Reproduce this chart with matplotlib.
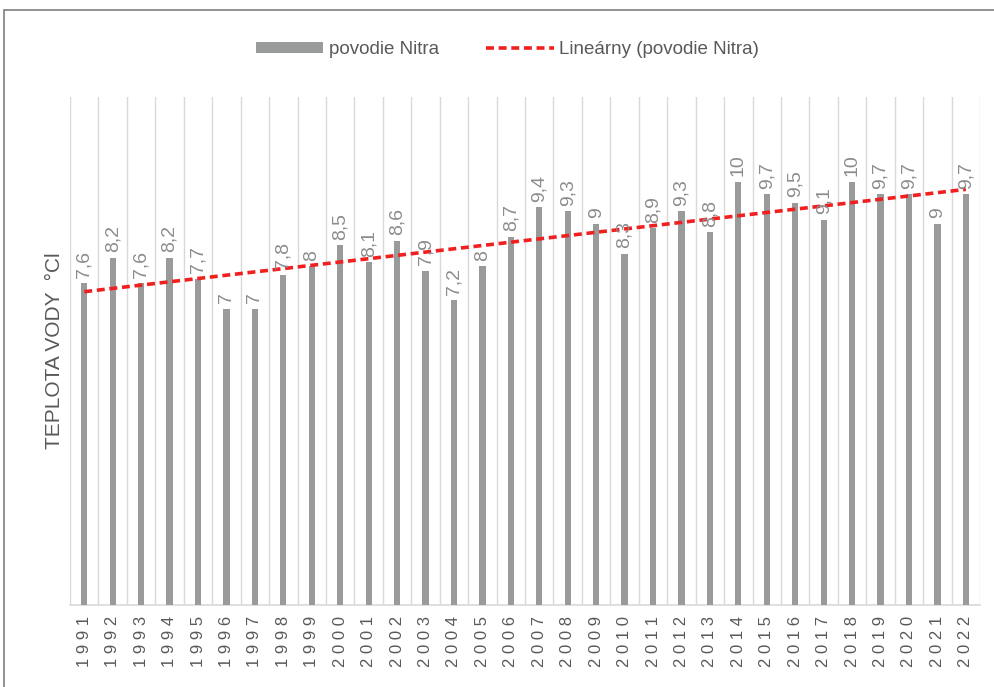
import matplotlib.pyplot as plt
import numpy as np
import matplotlib
from matplotlib.patches import Rectangle

matplotlib.rcParams['font.family'] = ['Liberation Sans', 'DejaVu Sans']

# Data: average water temperature, Nitra basin
years = [str(y) for y in range(1991, 2023)]
temps = [7.6, 8.2, 7.6, 8.2, 7.7, 7.0, 7.0, 7.8, 8.0, 8.5, 8.1, 8.6, 7.9, 7.2, 8.0, 8.7,
         9.4, 9.3, 9.0, 8.3, 8.9, 9.3, 8.8, 10.0, 9.7, 9.5, 9.1, 10.0, 9.7, 9.7, 9.0, 9.7]

bar_color = '#999b9b'
grid_color = '#d9d9d9'
text_color = '#595959'

fig = plt.figure(figsize=(9.95, 6.87), dpi=100)
ax = fig.add_axes([0.0704, 0.1194, 0.9146, 0.7394])

x = np.arange(len(years))
bars = ax.bar(x, temps, width=0.22, color=bar_color, zorder=3, label='povodie Nitra')

# Linear trendline (as in Excel)
k, q = np.polyfit(x, temps, 1)
trend, = ax.plot(x, k * x + q, color='#f02020', linestyle=(0, (2.2, 1.3)), linewidth=2.6,
                 zorder=4, label='Lineárny (povodie Nitra)')

# data labels
for xi, v in zip(x, temps):
    lab = ('%g' % v).replace('.', ',')
    ax.annotate(lab, (xi, v), xytext=(0, 4), textcoords='offset points',
                rotation=90, ha='center', va='bottom', fontsize=14,
                color='#8c8c8c', zorder=5)

ax.set_xlim(-0.5, len(years) - 0.5)
ax.set_ylim(0, 12)
ax.set_yticks([])
ax.set_xticks(x)
ax.set_xticklabels([' '.join(y) for y in years], rotation=90, fontsize=12, color=text_color)
ax.tick_params(axis='x', length=0, pad=8)

for b in np.arange(-0.5, len(years), 1.0):
    ax.axvline(b, color=grid_color, linewidth=1, zorder=1)

for s in ['top', 'right', 'left']:
    ax.spines[s].set_visible(False)
ax.spines['bottom'].set_color(grid_color)
ax.spines['bottom'].set_linewidth(1.2)

ax.set_ylabel('TEPLOTA VODY  °Cl', fontsize=15, color=text_color, labelpad=4)

fig.legend([bars, trend], ['povodie Nitra', 'Lineárny (povodie Nitra)'],
           loc='upper center', bbox_to_anchor=(0.51, 0.965), ncol=2, frameon=False,
           fontsize=13.5, labelcolor=text_color, handlelength=3.6, handleheight=0.5,
           columnspacing=2.5, handletextpad=0.3)

# outer chart border
fig.patches.append(Rectangle((0.004, -0.01), 1.1, 0.996, transform=fig.transFigure,
                             fill=False, edgecolor='#7f7f7f', linewidth=1.2))

plt.savefig('out.png', dpi=100)
